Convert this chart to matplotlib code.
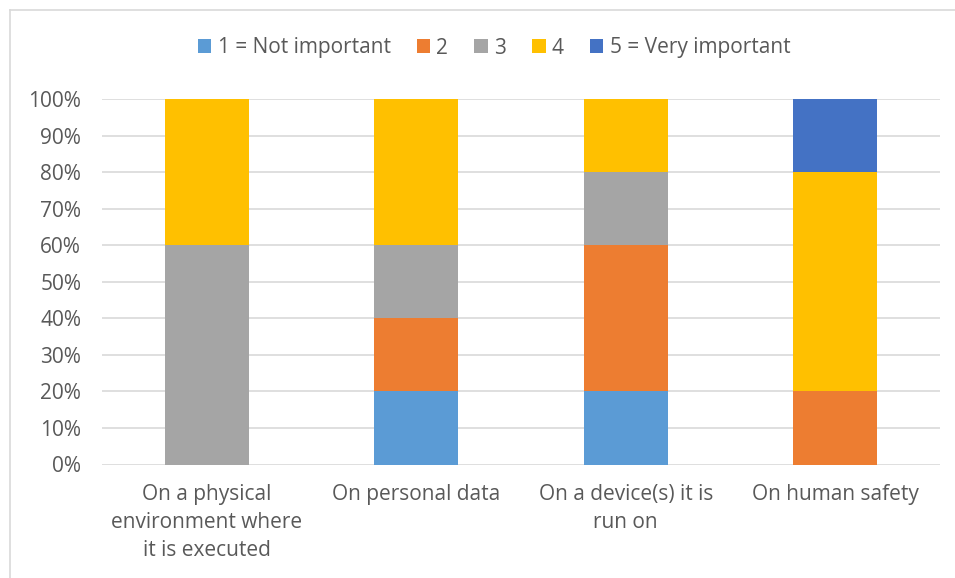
import matplotlib
matplotlib.use("Agg")
import matplotlib.pyplot as plt
import numpy as np
from matplotlib.lines import Line2D

categories = ["On a physical\nenvironment where\nit is executed", "On personal data",
              "On a device(s) it is\nrun on", "On human safety"]
series_names = ["1 = Not important", "2", "3", "4", "5 = Very important"]
s1 = [0, 20, 20, 0]
s2 = [0, 20, 40, 20]
s3 = [60, 20, 20, 0]
s4 = [40, 40, 20, 60]
s5 = [0, 0, 0, 20]
series = [s1, s2, s3, s4, s5]
colors = ["#5B9BD5", "#ED7D31", "#A5A5A5", "#FFC000", "#4472C4"]
yticks = [0, 10, 20, 30, 40, 50, 60, 70, 80, 90, 100]

plt.rcParams['font.family'] = ['Open Sans', 'DejaVu Sans']
txt = "#595959"
fs = 15

fig = plt.figure(figsize=(9.55, 5.78), dpi=100)
bx = 9.5 / 955
by = 1 - 9.5 / 578
fig.add_artist(Line2D([bx, bx], [0, by], transform=fig.transFigure, color="#D9D9D9", lw=1.2))
fig.add_artist(Line2D([bx, 1], [by, by], transform=fig.transFigure, color="#D9D9D9", lw=1.2))
ax = fig.add_axes([102/955, 1 - 464.5/578, (940 - 102)/955, (464.5 - 99)/578])

x = np.arange(len(categories))
bottom = np.zeros(len(categories))
handles = []
for name, vals, c in zip(series_names, series, colors):
    h = ax.bar(x, vals, 0.4, bottom=bottom, color=c, label=name, zorder=3)
    handles.append(h)
    bottom += np.array(vals)

ax.set_xlim(-0.5, len(categories) - 0.5)
ax.set_ylim(0, 100)
ax.set_yticks(yticks)
ax.set_yticklabels([f"{v}%" for v in yticks])
ax.set_xticks(x)
ax.set_xticklabels(categories, linespacing=1.45)
ax.grid(axis='y', color="#D9D9D9", lw=1.2, zorder=0)
for s in ax.spines.values():
    s.set_visible(False)
ax.tick_params(axis='both', length=0, colors=txt, labelsize=fs)
ax.tick_params(axis='y', pad=15)
ax.tick_params(axis='x', pad=14)

fig.legend(handles=handles, loc='center', bbox_to_anchor=(494/955, 1 - 48/578), ncol=5,
           frameon=False, fontsize=fs, labelcolor=txt, handlelength=0.65, handleheight=0.65,
           handletextpad=0.3, columnspacing=1.25)

fig.savefig("out.png", dpi=100)
